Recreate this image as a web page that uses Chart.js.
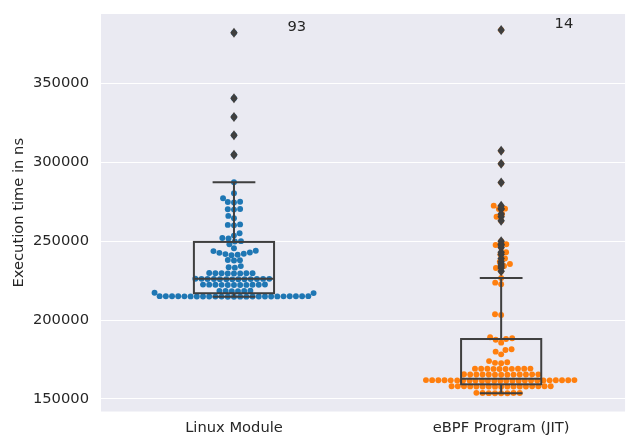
<!DOCTYPE html>
<html>
<head>
<meta charset="utf-8">
<script src="https://cdn.jsdelivr.net/npm/chart.js@4/dist/chart.umd.min.js"></script>
<style>
  body { margin: 0; background: #ffffff; }
  canvas { display: block; }
</style>
</head>
<body>
<canvas id="chart" width="628" height="437"></canvas>
<script>
const categories = ['Linux Module', 'eBPF Program (JIT)'];

// execution times in ns
const linuxTimes = [
  214800, 214815, 214830, 214845, 214860, 214875, 214890, 214905, 214920, 214935,
  214950, 214965, 214980, 214995, 215010, 215025, 215040, 215055, 215070, 215085,
  215100, 215115, 215130, 215145, 215160,
  217100, 217300,
  218300, 218350, 218400, 218450, 218500, 218550,
  222200, 222230, 222260, 222290, 222320, 222350, 222380, 222410, 222440, 222470, 222500,
  225800, 225830, 225860, 225890, 225920, 225950, 225980, 226010, 226040, 226070,
  226100, 226130, 226160,
  229500, 229540, 229580, 229620, 229660, 229700, 229740, 229780,
  233200, 233500, 234200,
  237700, 237900, 238100,
  241100, 241400, 241800, 242000,
  242600, 242800, 243700, 243900,
  245500, 248000, 249800, 250000, 251700, 252000, 253500, 255000,
  260000, 260300, 260600, 264500, 266000,
  270000, 270200, 270400, 274500, 274800, 275000, 277200, 280300, 287300,
  304800, 317100, 328700, 340500, 382100
];

const ebpfTimes = [
  153600, 153640, 153680, 153720, 153760, 153800, 153840, 153880,
  157800, 157820, 157840, 157860, 157880, 157900, 157920, 157940, 157960, 157980,
  158000, 158020, 158040, 158060, 158080, 158100, 158120,
  161500, 161520, 161540, 161560, 161580, 161600, 161620, 161640, 161660, 161680,
  161700, 161720, 161740, 161760, 161780, 161800, 161820, 161840, 161860, 161880,
  161900, 161920, 161940, 161960, 161980,
  165400, 165420, 165440, 165460, 165480, 165500, 165520, 165540, 165560, 165580,
  165600, 165620, 165640,
  169000, 169030, 169060, 169090, 169120, 169150, 169180, 169210, 169240, 169270,
  172600, 172900, 173300, 174000,
  178300, 180000, 181000, 181500,
  185700, 187500, 188000, 188500, 189100,
  203200, 203700,
  222700, 223700, 226700,
  231000, 233000, 234300, 235500, 237000, 239000, 241500, 243000, 245900, 247600,
  248000, 250000, 263000, 265500, 267200, 270400, 270600, 272500, 287100, 299000,
  307200, 383800
];

// box statistics as drawn
const q1 = [217000, 159300];
const medians = [226200, 162900];
const q3 = [249500, 188000];
const whiskerLow = [214800, 153600];
const whiskerHigh = [287300, 226700];

const annotations = ['93', '14'];
const yTicks = [150000, 200000, 250000, 300000, 350000];

const textColor = '#262626';
const boxColor = '#3f3f3f';
const font = { family: 'DejaVu Sans', size: 14.7 };
const dotRadius = 2.95;

const bgPlugin = {
  id: 'bg',
  beforeDraw(chart) {
    const { ctx, chartArea: a } = chart;
    ctx.save();
    ctx.fillStyle = '#eaeaf2';
    ctx.fillRect(a.left, a.top, a.right - a.left, a.bottom - a.top);
    ctx.restore();
  }
};

const boxPlugin = {
  id: 'boxes',
  afterDatasetsDraw(chart) {
    const { ctx } = chart;
    const xs = chart.scales.x, ys = chart.scales.y;
    const series = [linuxTimes, ebpfTimes];
    ctx.save();
    ctx.strokeStyle = boxColor;
    ctx.lineWidth = 2;
    categories.forEach((c, i) => {
      const cx = xs.getPixelForValue(i);
      const left = xs.getPixelForValue(i - 0.15), right = xs.getPixelForValue(i + 0.15);
      const capL = xs.getPixelForValue(i - 0.08), capR = xs.getPixelForValue(i + 0.08);
      const yq1 = ys.getPixelForValue(q1[i]), yq3 = ys.getPixelForValue(q3[i]);
      const ymed = ys.getPixelForValue(medians[i]);
      const ylo = ys.getPixelForValue(whiskerLow[i]), yhi = ys.getPixelForValue(whiskerHigh[i]);

      ctx.beginPath();
      // whiskers
      ctx.moveTo(cx, yq3); ctx.lineTo(cx, yhi);
      ctx.moveTo(cx, yq1); ctx.lineTo(cx, ylo);
      ctx.moveTo(capL, yhi); ctx.lineTo(capR, yhi);
      ctx.moveTo(capL, ylo); ctx.lineTo(capR, ylo);
      // median
      ctx.moveTo(left, ymed); ctx.lineTo(right, ymed);
      ctx.stroke();
      ctx.strokeRect(left, yq3, right - left, yq1 - yq3);

      // outliers as thin diamonds
      ctx.fillStyle = boxColor;
      series[i].forEach(v => {
        if (v > whiskerHigh[i] || v < whiskerLow[i]) {
          const y = ys.getPixelForValue(v);
          ctx.beginPath();
          ctx.moveTo(cx, y - 5);
          ctx.lineTo(cx + 3.7, y);
          ctx.lineTo(cx, y + 5);
          ctx.lineTo(cx - 3.7, y);
          ctx.closePath();
          ctx.fill();
        }
      });

      // count label next to the top point
      ctx.fillStyle = textColor;
      ctx.font = font.size + 'px ' + font.family;
      ctx.textAlign = 'center';
      ctx.textBaseline = 'middle';
      const top = Math.max(...series[i]);
      ctx.fillText(annotations[i], xs.getPixelForValue(i + 0.235), ys.getPixelForValue(top) - 5.5);
    });
    ctx.restore();
  }
};

// seaborn-style beeswarm, in pixels
function swarmOffsets(values, yScale, r) {
  const d = r * 2;
  const pts = values.map((v, i) => ({ i: i, u: -yScale.getPixelForValue(v), x: 0 }));
  pts.sort((a, b) => a.u - b.u);
  const placed = [];
  pts.forEach(p => {
    const neighbors = [];
    for (let k = placed.length - 1; k >= 0; k--) {
      if (p.u - placed[k].u < d) neighbors.push(placed[k]);
      else break;
    }
    const cands = [0];
    let leftFirst = true;
    neighbors.forEach(n => {
      const dy = p.u - n.u;
      const dx = Math.sqrt(Math.max(d * d - dy * dy, 0)) * 1.05;
      if (leftFirst) cands.push(n.x - dx, n.x + dx);
      else cands.push(n.x + dx, n.x - dx);
      leftFirst = !leftFirst;
    });
    const order = cands.map((c, k) => k)
      .sort((a, b) => (Math.abs(cands[a]) - Math.abs(cands[b])) || (a - b));
    for (const k of order) {
      const cx = cands[k];
      if (neighbors.every(n => (n.x - cx) ** 2 + (n.u - p.u) ** 2 >= d * d - 1e-9)) {
        p.x = cx;
        break;
      }
    }
    placed.push(p);
  });
  const out = new Array(values.length);
  pts.forEach(p => { out[p.i] = p.x; });
  return out;
}

const ctx = document.getElementById('chart').getContext('2d');
const chart = new Chart(ctx, {
  type: 'scatter',
  data: {
    datasets: [
      { data: linuxTimes.map(v => ({ x: 0, y: v })), backgroundColor: '#1f77b4',
        pointRadius: dotRadius, pointHoverRadius: dotRadius, borderWidth: 0 },
      { data: ebpfTimes.map(v => ({ x: 1, y: v })), backgroundColor: '#ff7f0e',
        pointRadius: dotRadius, pointHoverRadius: dotRadius, borderWidth: 0 }
    ]
  },
  options: {
    responsive: false,
    animation: false,
    devicePixelRatio: 1,
    layout: { padding: { top: 14, right: 0, bottom: 0, left: 0 } },
    plugins: { legend: { display: false }, tooltip: { enabled: false } },
    scales: {
      x: {
        type: 'linear',
        min: -0.4977,
        max: 1.4637,
        grid: { display: false, drawTicks: false },
        border: { display: false },
        afterBuildTicks: s => { s.ticks = categories.map((c, i) => ({ value: i })); },
        ticks: { callback: v => categories[v], padding: 8, color: textColor, font: font },
        afterFit: s => { s.height = 25.5; s.paddingLeft = 0; s.paddingRight = 0; }
      },
      y: {
        min: 142080,
        max: 393900,
        afterBuildTicks: s => { s.ticks = yTicks.map(v => ({ value: v })); },
        grid: { color: '#ffffff', lineWidth: 1, drawTicks: false },
        border: { display: false },
        ticks: { padding: 12, color: textColor, font: font, callback: v => String(v) },
        title: { display: true, text: 'Execution time in ns', color: textColor, font: font,
                 padding: { top: 10, bottom: 0 } },
        afterFit: s => { s.width = 101; s.paddingTop = 0; s.paddingBottom = 0; }
      }
    }
  },
  plugins: [bgPlugin, boxPlugin]
});

// place the swarm points now that the scales are known
const unit = chart.scales.x.getPixelForValue(1) - chart.scales.x.getPixelForValue(0);
[linuxTimes, ebpfTimes].forEach((vals, i) => {
  const off = swarmOffsets(vals, chart.scales.y, dotRadius);
  chart.data.datasets[i].data = vals.map((v, k) => ({ x: i + off[k] / unit, y: v }));
});
chart.update();
</script>
</body>
</html>
